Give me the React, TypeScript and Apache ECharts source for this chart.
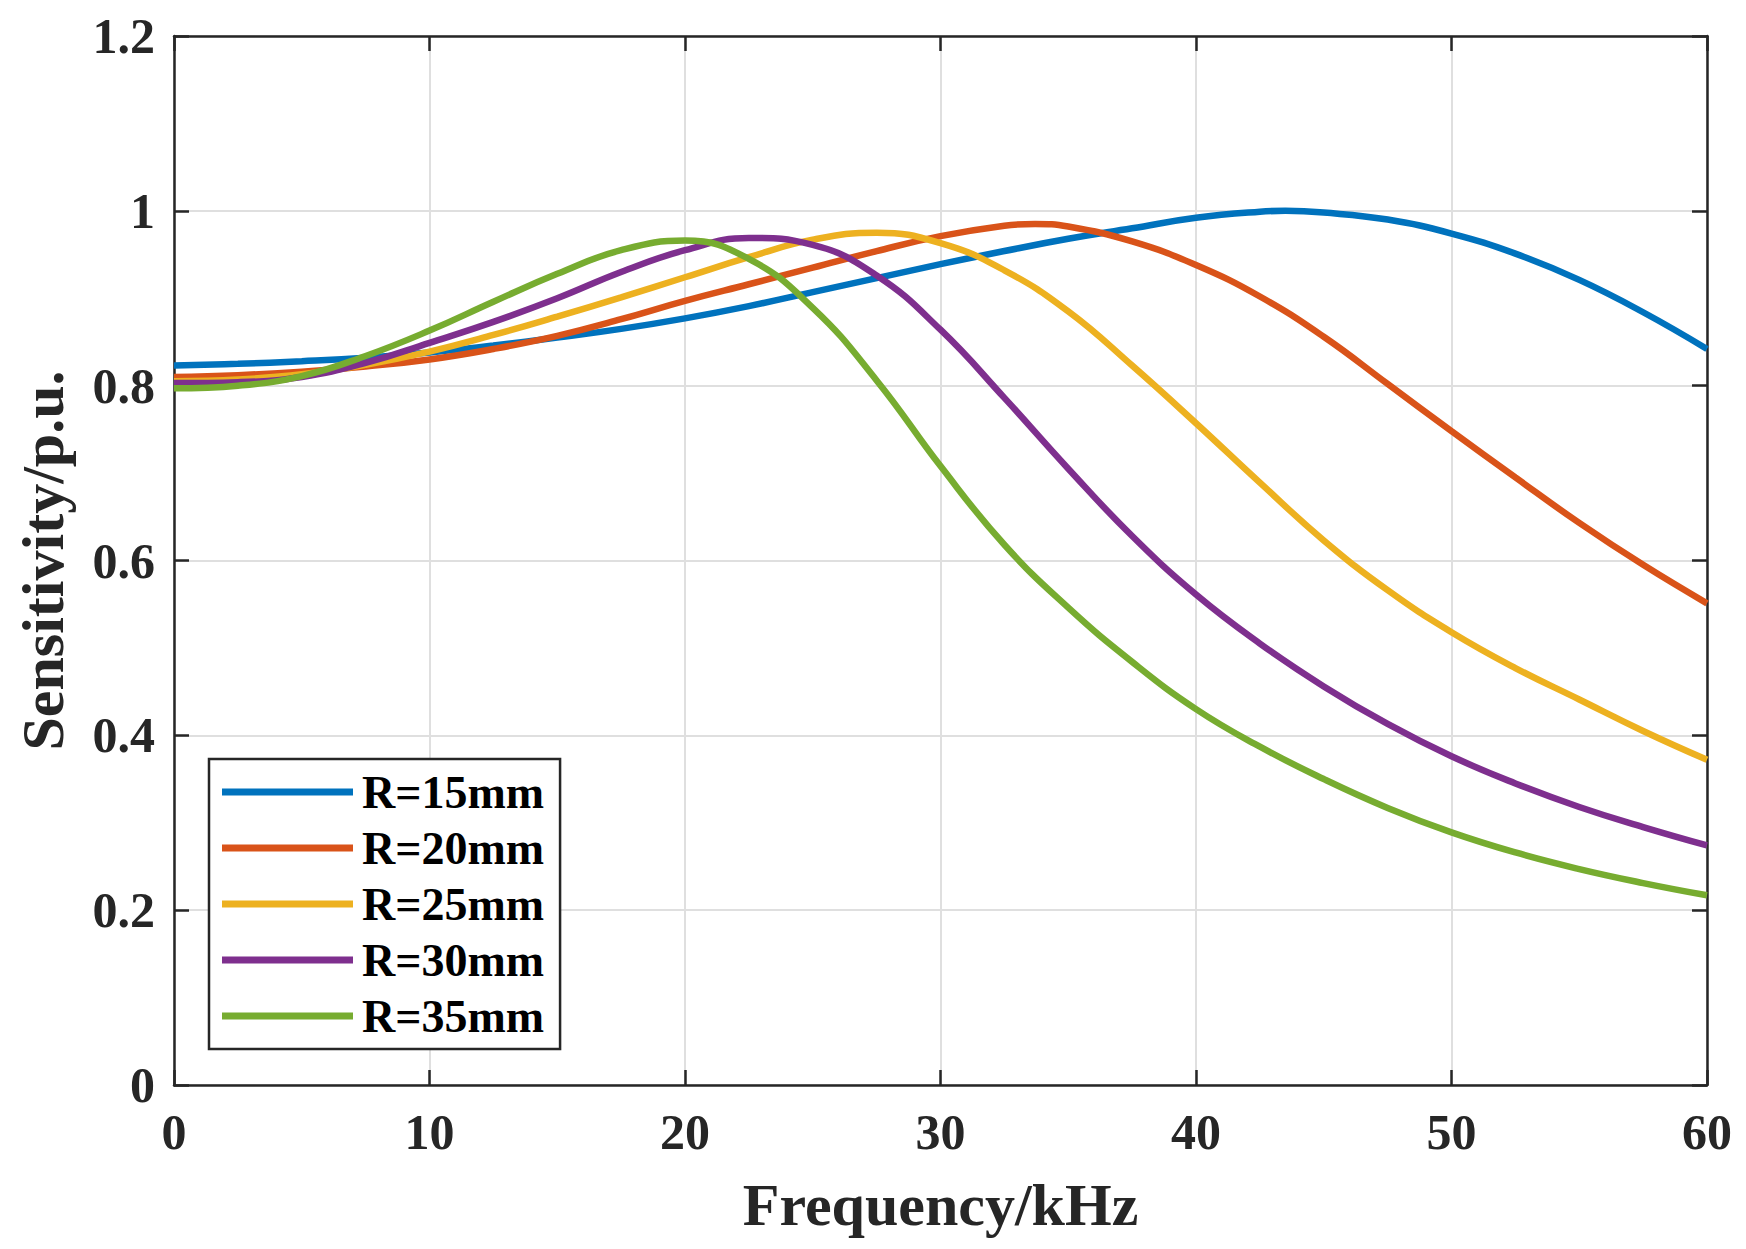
import React, { useEffect, useRef } from "react";
import * as echarts from "echarts";

const freq = [0, 2.5, 5, 7.5, 10, 12.5, 15, 17.5, 20, 22.5, 25, 27.5, 30, 32.5, 35, 37.5, 40, 42.5, 45, 47.5, 50, 52.5, 55, 57.5, 60];

const seriesNames = ["R=15mm", "R=20mm", "R=25mm", "R=30mm", "R=35mm"];
const seriesColors = ["#0072BD", "#D95319", "#EDB120", "#7E2F8E", "#77AC30"];

const r15 = [0.823, 0.825, 0.828, 0.832, 0.838, 0.846, 0.855, 0.865, 0.877, 0.891, 0.907, 0.923, 0.939, 0.954, 0.968, 0.980, 0.992, 0.999, 0.998, 0.990, 0.974, 0.951, 0.921, 0.884, 0.842];
const r20 = [0.810, 0.812, 0.816, 0.822, 0.830, 0.842, 0.857, 0.876, 0.897, 0.916, 0.935, 0.954, 0.971, 0.983, 0.982, 0.965, 0.938, 0.902, 0.856, 0.802, 0.748, 0.695, 0.643, 0.595, 0.551];
const r25 = [0.805, 0.807, 0.813, 0.824, 0.839, 0.858, 0.879, 0.901, 0.924, 0.947, 0.967, 0.975, 0.963, 0.932, 0.885, 0.823, 0.757, 0.689, 0.623, 0.566, 0.518, 0.477, 0.441, 0.405, 0.372];
const r30 = [0.803, 0.804, 0.810, 0.826, 0.849, 0.873, 0.900, 0.930, 0.955, 0.969, 0.961, 0.926, 0.864, 0.786, 0.705, 0.628, 0.561, 0.505, 0.456, 0.413, 0.376, 0.345, 0.318, 0.295, 0.274];
const r35 = [0.797, 0.800, 0.811, 0.834, 0.863, 0.896, 0.928, 0.955, 0.966, 0.945, 0.889, 0.806, 0.708, 0.618, 0.546, 0.484, 0.430, 0.387, 0.350, 0.317, 0.289, 0.266, 0.247, 0.231, 0.217];

// peak of each curve (frequency, value)
const peakFreq = [43.5, 33.7, 27.2, 22.7, 19.5];
const peakValue = [1.0, 0.985, 0.975, 0.970, 0.967];

const allValues = [r15, r20, r25, r30, r35];

const xTicks = { min: 0, max: 60, interval: 10 };
const yTicks = { min: 0, max: 1.2, interval: 0.2 };

const FONT = "'Liberation Serif', 'Times New Roman', serif";
const AXIS = "#262626";

function buildData(i: number): number[][] {
  const pts = freq.map((f, j) => [f, allValues[i][j]]);
  const pf = peakFreq[i];
  // only add the peak when it is not (almost) on a sampled frequency
  if (!freq.some((f) => Math.abs(f - pf) < 0.6)) {
    pts.push([pf, peakValue[i]]);
    pts.sort((a, b) => a[0] - b[0]);
  }
  return pts;
}

export default function App() {
  const ref = useRef<HTMLDivElement>(null);
  useEffect(() => {
    if (!ref.current) return;
    const chart = echarts.init(ref.current, undefined, { renderer: "svg" });
    const axisCommon = {
      axisLine: { show: true, onZero: false, lineStyle: { color: AXIS, width: 2.5 } },
      axisTick: { show: true, inside: true, length: 15, lineStyle: { color: AXIS, width: 2.5 } },
    };
    const option = {
      animation: false,
      backgroundColor: "#ffffff",
      grid: { left: 174, right: 39, top: 36, bottom: 164 },
      legend: {
        orient: "vertical",
        left: 209,
        top: 759,
        padding: [10, 16, 10, 13],
        itemGap: 10,
        itemWidth: 131,
        itemHeight: 7,
        icon: "rect",
        borderColor: AXIS,
        borderWidth: 2.5,
        backgroundColor: "#ffffff",
        data: seriesNames,
        textStyle: { fontFamily: FONT, fontWeight: "bold", fontSize: 46, color: "#000000", padding: [0, 0, 0, 4] },
      },
      xAxis: [
        {
          type: "value",
          ...xTicks,
          position: "bottom",
          ...axisCommon,
          axisLabel: { fontFamily: FONT, fontWeight: "bold", fontSize: 50, color: AXIS, margin: 22 },
          splitLine: { show: true, lineStyle: { color: "#dfdfdf", width: 2 } },
          name: "Frequency/kHz",
          nameLocation: "middle",
          nameGap: 90,
          nameTextStyle: { fontFamily: FONT, fontWeight: "bold", fontSize: 60, color: AXIS },
        },
        {
          type: "value",
          ...xTicks,
          position: "top",
          ...axisCommon,
          axisLabel: { show: false },
          splitLine: { show: false },
        },
      ],
      yAxis: [
        {
          type: "value",
          ...yTicks,
          position: "left",
          ...axisCommon,
          axisLabel: {
            fontFamily: FONT,
            fontWeight: "bold",
            fontSize: 50,
            color: AXIS,
            margin: 19,
            formatter: (v: number) => String(+v.toFixed(1)),
          },
          splitLine: { show: true, lineStyle: { color: "#dfdfdf", width: 2 } },
          name: "Sensitivity/p.u.",
          nameLocation: "middle",
          nameRotate: 90,
          nameGap: 101,
          nameTextStyle: { fontFamily: FONT, fontWeight: "bold", fontSize: 60, color: AXIS },
        },
        {
          type: "value",
          ...yTicks,
          position: "right",
          ...axisCommon,
          axisLabel: { show: false },
          splitLine: { show: false },
        },
      ],
      series: seriesNames.map((name, i) => ({
        name,
        type: "line",
        xAxisIndex: 0,
        yAxisIndex: 0,
        data: buildData(i),
        showSymbol: false,
        symbol: "none",
        smooth: 0.45,
        color: seriesColors[i],
        lineStyle: { width: 6.5, color: seriesColors[i] },
        z: 2 + i,
      })),
    };
    chart.setOption(option as any);
    return () => chart.dispose();
  }, []);
  return (
    <div
      ref={ref}
      style={{ position: "absolute", left: 0, top: 0, width: 1746, height: 1249, background: "#fff" }}
    />
  );
}
